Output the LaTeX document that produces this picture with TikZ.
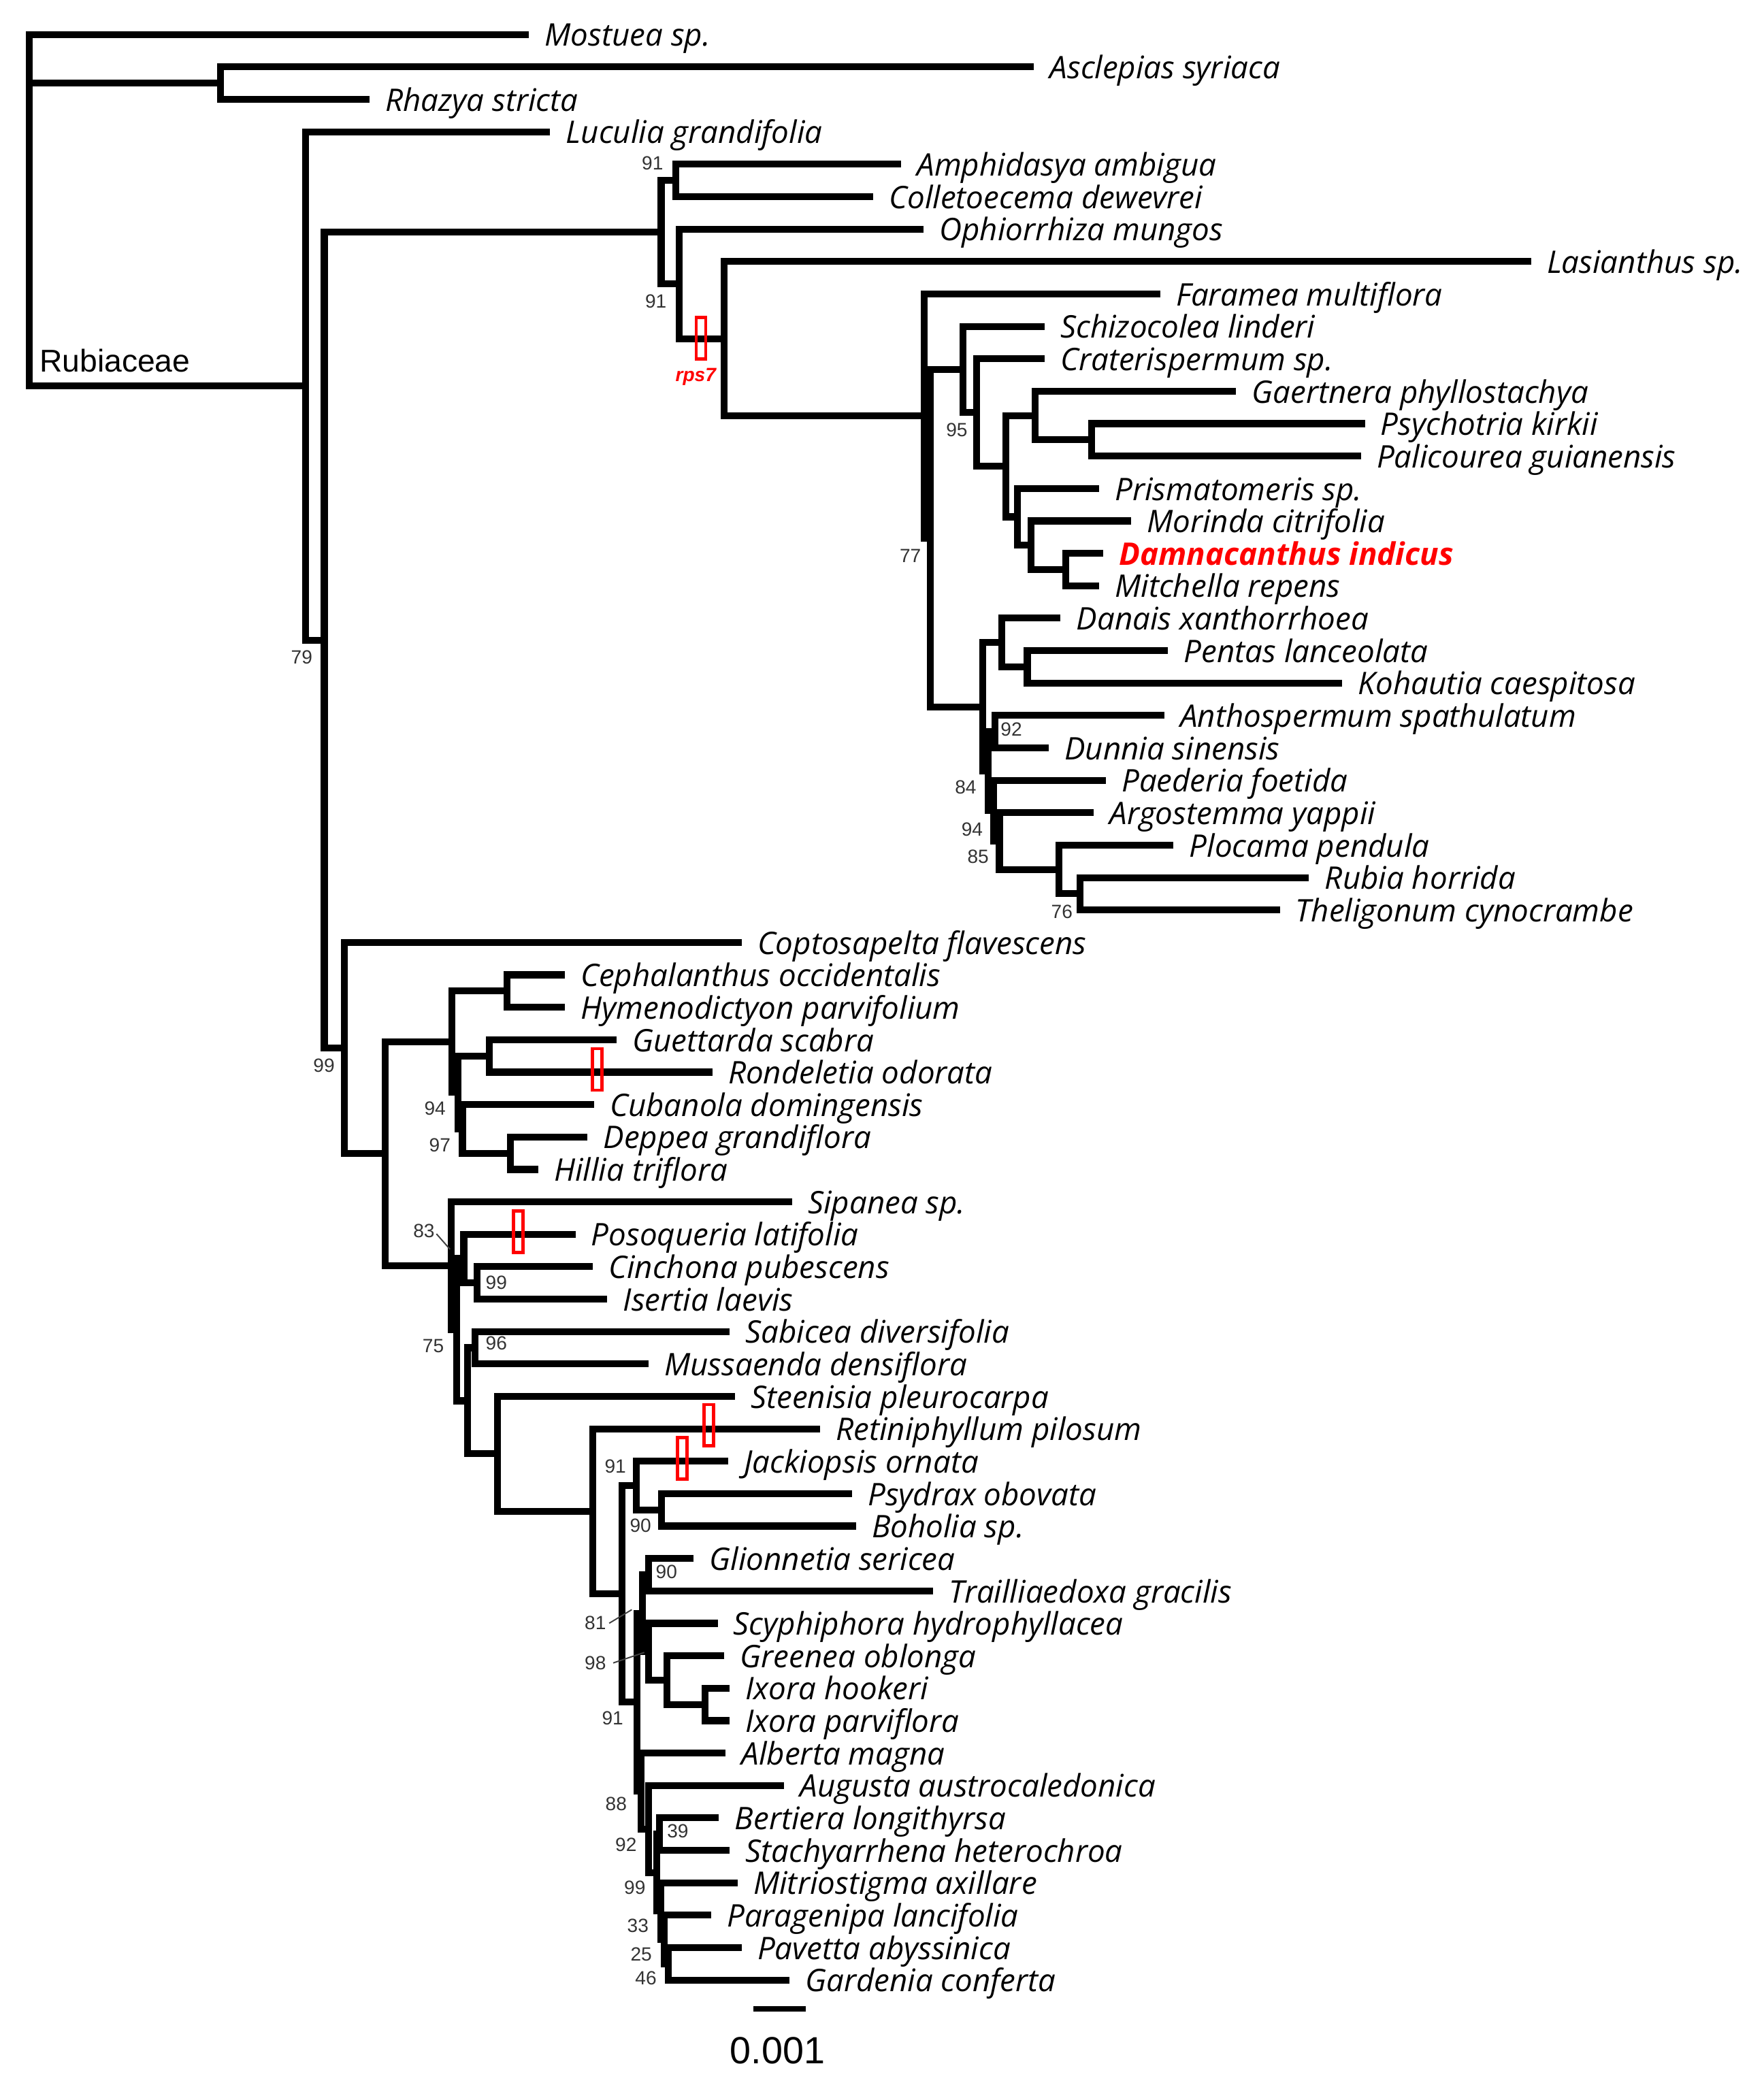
\documentclass[tikz,border=0pt]{standalone}
\usepackage{fontspec}
\setmainfont{Open Sans}
\newfontfamily\arialfont{Liberation Sans}
\newcommand\leaf[4]{\coordinate (#1) at (#3,{26+24.4*(#2-1)});\node[tax] (#1-t) at (#1) {#4};}
\newcommand\inode[4]{\path (#3) -- (#4) coordinate[pos=.5] (#1-m);\coordinate (#1-x) at (#2,0);\coordinate (#1) at (#1-x |- #1-m);\draw[branch] (#3) -- (#3 -| #1) -- (#4 -| #1) -- (#4);}
\begin{document}
\begin{tikzpicture}[x=0.5pt,y=-0.5pt,
  branch/.style={line width=2.6pt,line join=miter,line cap=butt},
  tax/.style={anchor=base west,inner sep=0pt,font=\fontsize{11.7}{13}\selectfont\itshape,xshift=5.8pt,yshift=-4.4pt},
  supp/.style={inner sep=0pt,font=\arialfont\fontsize{7.2}{8}\selectfont,text=black!80},
  lead/.style={line width=0.5pt,black!75},
  mut/.style={draw=red,line width=1.2pt,inner sep=0pt,minimum width=3.6pt,minimum height=15.6pt}]
\useasboundingbox (0,0) rectangle (1327,1566);
% leaves
\leaf{l1}{1}{398}{Mostuea sp.}
\leaf{l2}{2}{778}{Asclepias syriaca}
\leaf{l3}{3}{278}{Rhazya stricta}
\leaf{l4}{4}{414}{Luculia grandifolia}
\leaf{l5}{5}{678}{Amphidasya ambigua}
\leaf{l6}{6}{657}{Colletoecema dewevrei}
\leaf{l7}{7}{695}{Ophiorrhiza mungos}
\leaf{l8}{8}{1152}{Lasianthus sp.}
\leaf{l9}{9}{873}{Faramea multiflora}
\leaf{l10}{10}{786}{Schizocolea linderi}
\leaf{l11}{11}{786}{Craterispermum sp.}
\leaf{l12}{12}{930}{Gaertnera phyllostachya}
\leaf{l13}{13}{1027}{Psychotria kirkii}
\leaf{l14}{14}{1024}{Palicourea guianensis}
\leaf{l15}{15}{827}{Prismatomeris sp.}
\leaf{l16}{16}{851}{Morinda citrifolia}
\coordinate (l17) at (830,{26+24.4*16});
\node[tax,font=\fontsize{11.7}{13}\selectfont\bfseries\itshape,text=red] (l17-t) at (l17) {Damnacanthus indicus};
\leaf{l18}{18}{827}{Mitchella repens}
\leaf{l19}{19}{798}{Danais xanthorrhoea}
\leaf{l20}{20}{879}{Pentas lanceolata}
\leaf{l21}{21}{1010}{Kohautia caespitosa}
\leaf{l22}{22}{876}{Anthospermum spathulatum}
\leaf{l23}{23}{789}{Dunnia sinensis}
\leaf{l24}{24}{832}{Paederia foetida}
\leaf{l25}{25}{823}{Argostemma yappii}
\leaf{l26}{26}{883}{Plocama pendula}
\leaf{l27}{27}{985}{Rubia horrida}
\leaf{l28}{28}{963}{Theligonum cynocrambe}
\leaf{l29}{29}{558}{Coptosapelta flavescens}
\leaf{l30}{30}{425}{Cephalanthus occidentalis}
\leaf{l31}{31}{425}{Hymenodictyon parvifolium}
\leaf{l32}{32}{464}{Guettarda scabra}
\leaf{l33}{33}{536}{Rondeletia odorata}
\leaf{l34}{34}{447}{Cubanola domingensis}
\leaf{l35}{35}{442}{Deppea grandiflora}
\leaf{l36}{36}{405}{Hillia triflora}
\leaf{l37}{37}{596}{Sipanea sp.}
\leaf{l38}{38}{433}{Posoqueria latifolia}
\leaf{l39}{39}{446}{Cinchona pubescens}
\leaf{l40}{40}{457}{Isertia laevis}
\leaf{l41}{41}{549}{Sabicea diversifolia}
\leaf{l42}{42}{488}{Mussaenda densiflora}
\leaf{l43}{43}{553}{Steenisia pleurocarpa}
\leaf{l44}{44}{617}{Retiniphyllum pilosum}
\leaf{l45}{45}{548}{Jackiopsis ornata}
\leaf{l46}{46}{641}{Psydrax obovata}
\leaf{l47}{47}{644}{Boholia sp.}
\leaf{l48}{48}{522}{Glionnetia sericea}
\leaf{l49}{49}{702}{Trailliaedoxa gracilis}
\leaf{l50}{50}{540}{Scyphiphora hydrophyllacea}
\leaf{l51}{51}{545}{Greenea oblonga}
\leaf{l52}{52}{549}{Ixora hookeri}
\leaf{l53}{53}{549}{Ixora parviflora}
\leaf{l54}{54}{546}{Alberta magna}
\leaf{l55}{55}{590}{Augusta austrocaledonica}
\leaf{l56}{56}{541}{Bertiera longithyrsa}
\leaf{l57}{57}{549}{Stachyarrhena heterochroa}
\leaf{l58}{58}{555}{Mitriostigma axillare}
\leaf{l59}{59}{535}{Paragenipa lancifolia}
\leaf{l60}{60}{558}{Pavetta abyssinica}
\leaf{l61}{61}{594}{Gardenia conferta}
% internal nodes, upper clade
\inode{ar}{166}{l2}{l3}
\inode{ac}{508.5}{l5}{l6}
\inode{f}{821.6}{l13}{l14}
\inode{e}{779}{l12}{f}
\inode{i}{802}{l17}{l18}
\inode{h}{776}{l16}{i}
\inode{g2}{765.7}{l15}{h}
\inode{d}{757}{e}{g2}
\inode{c}{735}{l11}{d}
\inode{sc}{724.6}{l10}{c}
\inode{pk}{773}{l20}{l21}
\inode{k}{754}{l19}{pk}
\inode{ad}{748.5}{l22}{l23}
\inode{rt}{812.8}{l27}{l28}
\inode{pl}{796.7}{l26}{rt}
\inode{n85}{752}{l25}{pl}
\inode{n94}{747.5}{l24}{n85}
\inode{n84}{743.5}{ad}{n94}
\inode{j}{739.5}{k}{n84}
\inode{mm}{700}{sc}{j}
\inode{m}{695.5}{l9}{mm}
\inode{lz}{545}{l8}{m}
\inode{pb}{511}{l7}{lz}
\inode{pa}{497.5}{ac}{pb}
% lower clade
\inode{ch}{381.5}{l30}{l31}
\inode{gr}{368}{l32}{l33}
\inode{dh}{384}{l35}{l36}
\inode{x3}{348}{l34}{dh}
\inode{x2}{344.5}{gr}{x3}
\inode{x1}{340}{ch}{x2}
\inode{ci}{359}{l39}{l40}
\inode{z}{349}{l38}{ci}
\inode{sm}{357.5}{l41}{l42}
\inode{pbo}{497.6}{l46}{l47}
\inode{jpb}{479}{l45}{pbo}
\inode{gt}{488}{l48}{l49}
\inode{ix}{530.6}{l52}{l53}
\inode{gi}{502}{l51}{ix}
\inode{s98}{488}{l50}{gi}
\inode{n81}{483.5}{gt}{s98}
\inode{p46}{502.8}{l60}{l61}
\inode{p25}{500}{l59}{p46}
\inode{p33}{497.3}{l58}{p25}
\inode{bst}{496}{l56}{l57}
\inode{p99}{494.2}{bst}{p33}
\inode{p92}{488}{l55}{p99}
\inode{p88}{482.5}{l54}{p92}
\inode{w2}{479.5}{n81}{p88}
\inode{w1}{468}{jpb}{w2}
\inode{u}{446}{l44}{w1}
\inode{t}{374.5}{l43}{u}
\inode{y3}{352}{sm}{t}
\inode{y2}{343.5}{z}{y3}
\inode{y1}{339.5}{l37}{y2}
\inode{s}{290}{x1}{y1}
\inode{r}{259}{l29}{s}
\inode{q}{244}{pa}{r}
\inode{rc}{230}{l4}{q}
% root
\coordinate (r0) at (22,0);
\draw[branch] (l1) -- (l1 -| r0) -- (rc -| r0) -- (rc);
\draw[branch] (ar -| r0) -- (ar);
\node[anchor=base west,inner sep=0pt,font=\arialfont\fontsize{11.85}{13}\selectfont] (rub) at (29.4,279.7) {Rubiaceae};
% mutation boxes
\node[mut] (b1) at (527.5,254.5) {};
\node[mut] (b2) at (449.4,804.8) {};
\node[mut] (b3) at (389.8,927) {};
\node[mut] (b4) at (533.2,1072.5) {};
\node[mut] (b5) at (513.4,1097.3) {};
\node[inner sep=0pt,font=\arialfont\bfseries\itshape\fontsize{7.2}{8}\selectfont,text=red] (rps) at (523.5,283.4) {rps7};
% support values
\node[supp] (v1) at (491,123) {91};
\node[supp] (v2) at (493.5,227) {91};
\node[supp] (v3) at (227,494.8) {79};
\node[supp] (v4) at (720,323.5) {95};
\node[supp] (v5) at (685,418.3) {77};
\node[supp] (v6) at (761,549) {92};
\node[supp] (v7) at (726.6,592.4) {84};
\node[supp] (v8) at (731.5,624) {94};
\node[supp] (v9) at (736,644.5) {85};
\node[supp] (v10) at (799,686.3) {76};
\node[supp] (v11) at (243.8,802) {99};
\node[supp] (v12) at (327.3,834.3) {94};
\node[supp] (v13) at (331,861.7) {97};
\node[supp] (v14) at (319,926.5) {83};
\node[supp] (v15) at (373.5,965) {99};
\node[supp] (v16) at (326,1012.7) {75};
\node[supp] (v17) at (373.5,1011) {96};
\node[supp] (v18) at (463,1103.7) {91};
\node[supp] (v19) at (482,1148) {90};
\node[supp] (v20) at (501.5,1183) {90};
\node[supp] (v21) at (448,1221.5) {81};
\node[supp] (v22) at (448,1251.4) {98};
\node[supp] (v23) at (461,1293) {91};
\node[supp] (v24) at (463.6,1357.6) {88};
\node[supp] (v25) at (471,1388) {92};
\node[supp] (v26) at (510,1378) {39};
\node[supp] (v27) at (477.7,1420.5) {99};
\node[supp] (v28) at (480,1449.3) {33};
\node[supp] (v29) at (482.5,1470.8) {25};
\node[supp] (v30) at (486,1488.8) {46};
\coordinate (c83) at (338.6,940.1);
\coordinate (c81) at (475.4,1211.3);
\coordinate (c98) at (484.8,1243.5);
\draw[lead] (v14.east) ++(1,2) -- (c83);
\draw[lead] (v21.east) ++(2,0) -- (c81);
\draw[lead] (v22.east) ++(5,0) -- (c98);
% scale bar
\coordinate (sb1) at (567,1511.7);
\coordinate (sb2) at (606.4,1511.7);
\draw[line width=2pt] (sb1) -- (sb2);
\node[anchor=base,inner sep=0pt,font=\arialfont\fontsize{14.25}{16}\selectfont] (sbl) at (585,1552.7) {0.001};
\end{tikzpicture}
\end{document}
